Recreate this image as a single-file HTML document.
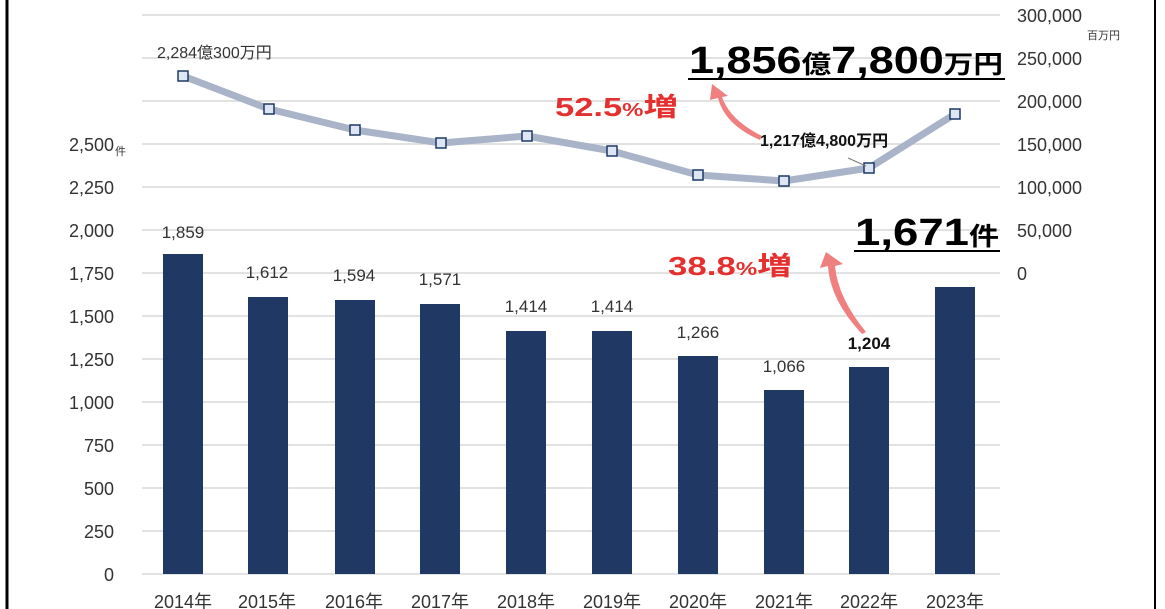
<!DOCTYPE html>
<html><head><meta charset="utf-8"><style>
body{margin:0;background:#fff;}
svg{display:block;font-family:"Liberation Sans","Noto Sans CJK JP",sans-serif;}
</style></head><body>
<svg width="1165" height="609" viewBox="0 0 1165 609">
<rect x="0" y="0" width="1165" height="609" fill="#fff"/>
<line x1="7" y1="0" x2="7" y2="609" stroke="#000" stroke-width="3"/>
<line x1="1155" y1="0" x2="1155" y2="609" stroke="#000" stroke-width="2"/>
<g stroke="#d9d9d9" stroke-width="1.5">
<line x1="142" y1="15" x2="1000" y2="15"/><line x1="142" y1="58" x2="1000" y2="58"/>
<line x1="142" y1="101" x2="1000" y2="101"/><line x1="142" y1="144" x2="1000" y2="144"/>
<line x1="142" y1="187" x2="1000" y2="187"/><line x1="142" y1="230" x2="1000" y2="230"/>
<line x1="142" y1="273" x2="1000" y2="273"/><line x1="142" y1="316" x2="1000" y2="316"/>
<line x1="142" y1="359" x2="1000" y2="359"/><line x1="142" y1="402" x2="1000" y2="402"/>
<line x1="142" y1="445" x2="1000" y2="445"/><line x1="142" y1="488" x2="1000" y2="488"/>
<line x1="142" y1="531" x2="1000" y2="531"/><line x1="142" y1="574" x2="1000" y2="574"/>
</g>
<g font-size="18" fill="#333" text-anchor="end">
<text x="114" y="151">2,500</text><text x="126" y="155" font-size="11" text-anchor="end">件</text>
<text x="114" y="194">2,250</text><text x="114" y="237">2,000</text><text x="114" y="280">1,750</text>
<text x="114" y="323">1,500</text><text x="114" y="366">1,250</text><text x="114" y="409">1,000</text>
<text x="114" y="452">750</text><text x="114" y="495">500</text><text x="114" y="538">250</text><text x="114" y="581">0</text>
</g>
<g font-size="18" fill="#333">
<text x="1017" y="22">300,000</text><text x="1017" y="65">250,000</text><text x="1017" y="108">200,000</text>
<text x="1017" y="151">150,000</text><text x="1017" y="194">100,000</text><text x="1017" y="237">50,000</text>
<text x="1017" y="280">0</text>
<text x="1087" y="39" font-size="11">百万円</text>
</g>
<g fill="#1f3864">
<rect x="163" y="254" width="40" height="320"/><rect x="248" y="297" width="40" height="277"/>
<rect x="335" y="300" width="40" height="274"/><rect x="420" y="304" width="40" height="270"/>
<rect x="506" y="331" width="40" height="243"/><rect x="592" y="331" width="40" height="243"/>
<rect x="678" y="356" width="40" height="218"/><rect x="764" y="390" width="40" height="184"/>
<rect x="849" y="367" width="40" height="207"/><rect x="935" y="287" width="40" height="287"/>
</g>
<g font-size="17" fill="#333" text-anchor="middle">
<text x="183" y="238">1,859</text><text x="267" y="278">1,612</text><text x="354" y="281">1,594</text>
<text x="440" y="285">1,571</text><text x="526" y="312">1,414</text><text x="612" y="312">1,414</text>
<text x="698" y="338">1,266</text><text x="784" y="372">1,066</text>
<text x="869" y="349" font-weight="bold" fill="#111">1,204</text>
</g>
<g font-size="18" fill="#333" text-anchor="middle">
<text x="183" y="608">2014年</text><text x="267" y="608">2015年</text><text x="354" y="608">2016年</text>
<text x="440" y="608">2017年</text><text x="526" y="608">2018年</text><text x="612" y="608">2019年</text>
<text x="698" y="608">2020年</text><text x="784" y="608">2021年</text><text x="869" y="608">2022年</text>
<text x="955" y="608">2023年</text>
</g>
<polyline points="183,76 269,109 355,130 441,143 527,136 612,151 698,175 784,181 869,168 955,114" fill="none" stroke="#a9b4c8" stroke-width="7" stroke-linejoin="round"/>
<g fill="#dde6f2" stroke="#1f3864" stroke-width="1.5">
<rect x="178" y="71" width="10" height="10"/><rect x="264" y="104" width="10" height="10"/>
<rect x="350" y="125" width="10" height="10"/><rect x="436" y="138" width="10" height="10"/>
<rect x="522" y="131" width="10" height="10"/><rect x="607" y="146" width="10" height="10"/>
<rect x="693" y="170" width="10" height="10"/><rect x="779" y="176" width="10" height="10"/>
<rect x="864" y="163" width="10" height="10"/><rect x="950" y="109" width="10" height="10"/>
</g>
<text x="157" y="58" font-size="16" fill="#333">2,284億300万円</text>
<text x="760" y="146" font-size="16" font-weight="bold" fill="#111">1,217億4,800万円</text>
<line x1="848" y1="158" x2="866" y2="166" stroke="#777" stroke-width="1"/>
<text x="689" y="73" font-size="38" font-weight="bold" fill="#000" textLength="314" lengthAdjust="spacingAndGlyphs">1,856<tspan font-size="25">億</tspan>7,800<tspan font-size="25">万円</tspan></text>
<line x1="688" y1="79" x2="1005" y2="79" stroke="#000" stroke-width="2"/>
<text x="855" y="245" font-size="38" font-weight="bold" fill="#000" textLength="144" lengthAdjust="spacingAndGlyphs">1,671<tspan font-size="25">件</tspan></text>
<line x1="854" y1="251" x2="1000" y2="251" stroke="#000" stroke-width="2"/>
<text x="555" y="116" font-size="26" font-weight="bold" fill="#e53030" textLength="123" lengthAdjust="spacingAndGlyphs">52.5<tspan font-size="18">%</tspan>増</text>
<text x="668" y="275" font-size="26" font-weight="bold" fill="#e53030" textLength="124" lengthAdjust="spacingAndGlyphs">38.8<tspan font-size="18">%</tspan>増</text>
<path d="M760,140 Q725,125 718,98 L710,100 L712,84 L728,96 L722,97 Q730,120 762,136 Z" fill="#f08080"/>
<path d="M862,334 Q830,300 828,266 L820,268 L826,252 L843,264 L835,266 Q838,298 866,332 Z" fill="#f08080"/>
</svg>
</body></html>
